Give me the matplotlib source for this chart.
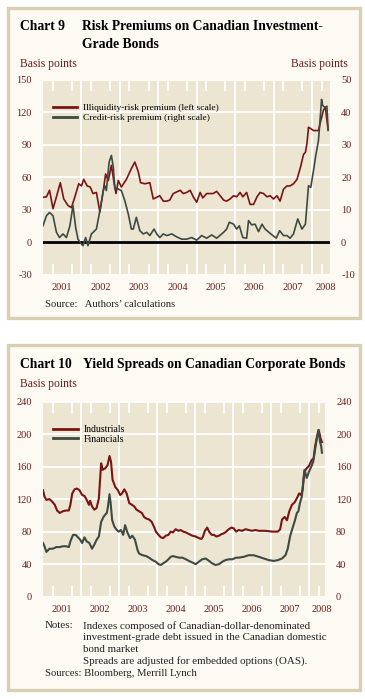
import matplotlib
matplotlib.use("Agg")
import matplotlib.pyplot as plt
from matplotlib.patches import Rectangle
import numpy as np

# ---- Chart 9 data (decimal year, basis points) ----
illiq_x = [2001.00, 2001.09, 2001.17, 2001.26, 2001.35, 2001.45, 2001.54, 2001.65, 2001.74, 2001.83,
           2001.93, 2002.00, 2002.06, 2002.15, 2002.23, 2002.30, 2002.39, 2002.48, 2002.57, 2002.63,
           2002.70, 2002.78, 2002.84, 2002.90, 2002.96, 2003.04, 2003.17, 2003.30, 2003.39, 2003.48,
           2003.54, 2003.65, 2003.78, 2003.87, 2004.04, 2004.13, 2004.22, 2004.30, 2004.39, 2004.57,
           2004.65, 2004.74, 2004.83, 2004.91, 2005.00, 2005.09, 2005.16, 2005.26, 2005.43, 2005.52,
           2005.61, 2005.70, 2005.78, 2005.87, 2005.96, 2006.04, 2006.13, 2006.20, 2006.30, 2006.39,
           2006.48, 2006.57, 2006.65, 2006.74, 2006.83, 2006.91, 2007.00, 2007.09, 2007.17, 2007.26,
           2007.35, 2007.43, 2007.52, 2007.61, 2007.70, 2007.78, 2007.83, 2007.87, 2007.91, 2007.96,
           2008.04, 2008.17, 2008.23, 2008.30, 2008.35, 2008.42]
illiq_y = [41.5, 42, 48, 31, 42, 55, 40, 34, 32, 42,
           54, 52, 58, 52, 51, 45, 46, 28, 48, 63,
           57, 71, 57, 45, 57, 51, 58, 68, 74, 65,
           55, 54, 55, 40, 43, 38, 38, 39, 45, 48,
           45, 46, 48, 42, 37, 46, 41, 45, 45, 47,
           43, 39, 38, 40, 43, 42, 46, 42, 46, 35,
           35, 42, 46, 45, 42, 43, 40, 43, 38, 49,
           52, 52, 54, 58, 69, 81, 83, 91, 106, 105,
           103, 103, 112, 122, 124, 104]

credit_x = [2001.00, 2001.09, 2001.17, 2001.26, 2001.35, 2001.43, 2001.52, 2001.61, 2001.70, 2001.78,
            2001.85, 2001.91, 2002.00, 2002.04, 2002.11, 2002.17, 2002.26, 2002.39, 2002.48, 2002.57,
            2002.61, 2002.65, 2002.72, 2002.78, 2002.83, 2002.87, 2002.96, 2003.04, 2003.13, 2003.22,
            2003.30, 2003.35, 2003.43, 2003.52, 2003.61, 2003.70, 2003.78, 2003.89, 2003.96, 2004.04,
            2004.13, 2004.22, 2004.35, 2004.48, 2004.61, 2004.74, 2004.87, 2005.00, 2005.13, 2005.26,
            2005.39, 2005.52, 2005.70, 2005.78, 2005.85, 2005.96, 2006.04, 2006.11, 2006.20, 2006.30,
            2006.35, 2006.43, 2006.52, 2006.61, 2006.70, 2006.78, 2006.91, 2007.07, 2007.16, 2007.26,
            2007.35, 2007.43, 2007.52, 2007.63, 2007.74, 2007.83, 2007.91, 2007.97, 2008.04, 2008.10,
            2008.17, 2008.22, 2008.25, 2008.28, 2008.33, 2008.39, 2008.42]
credit_y = [5.1, 8.2, 9.2, 8.2, 3.1, 1.5, 2.6, 1.5, 5.1, 11.3,
            4.6, 1.0, -0.5, -1.0, 1.5, -1.0, 2.6, 4.1, 9.7, 15.9,
            17.4, 15.9, 24.6, 26.7, 23.1, 16.4, 16.4, 15.9, 12.8, 8.7,
            4.1, 4.1, 7.7, 3.6, 2.6, 3.1, 2.1, 4.1, 2.6, 1.5,
            2.6, 2.1, 2.6, 1.7, 1.0, 1.0, 1.5, 0.7, 2.1, 1.3,
            2.3, 1.3, 3.1, 4.1, 6.2, 5.6, 4.1, 5.1, 1.5, 1.3,
            6.7, 5.4, 5.6, 3.3, 5.6, 4.1, 2.8, 1.3, 3.6, 2.1,
            2.1, 1.3, 2.6, 7.2, 4.1, 5.6, 17.4, 16.9, 22.0, 26.7,
            31.3, 39.0, 43.9, 42.0, 41.5, 41.8, 34.4]

# ---- Chart 10 data (decimal year, basis points) ----
ind_x = [2001.00, 2001.04, 2001.09, 2001.17, 2001.24, 2001.31, 2001.37, 2001.44, 2001.52, 2001.61,
         2001.68, 2001.72, 2001.77, 2001.83, 2001.89, 2001.96, 2002.03, 2002.09, 2002.15, 2002.21,
         2002.24, 2002.29, 2002.35, 2002.41, 2002.47, 2002.53, 2002.57, 2002.64, 2002.70, 2002.75,
         2002.79, 2002.83, 2002.90, 2002.97, 2003.03, 2003.08, 2003.14, 2003.20, 2003.27, 2003.34,
         2003.40, 2003.46, 2003.53, 2003.60, 2003.66, 2003.72, 2003.79, 2003.86, 2003.93, 2003.97,
         2004.04, 2004.10, 2004.16, 2004.23, 2004.30, 2004.36, 2004.42, 2004.49, 2004.56, 2004.62,
         2004.69, 2004.76, 2004.84, 2004.93, 2005.02, 2005.10, 2005.17, 2005.21, 2005.26, 2005.32,
         2005.37, 2005.44, 2005.50, 2005.56, 2005.63, 2005.70, 2005.76, 2005.82, 2005.89, 2005.96,
         2006.02, 2006.08, 2006.15, 2006.24, 2006.33, 2006.41, 2006.50, 2006.59, 2006.68, 2006.85,
         2007.03, 2007.18, 2007.24, 2007.29, 2007.36, 2007.42, 2007.48, 2007.55, 2007.62, 2007.68,
         2007.74, 2007.79, 2007.83, 2007.88, 2007.94, 2008.00, 2008.07, 2008.12, 2008.16, 2008.21,
         2008.25, 2008.28, 2008.30, 2008.34]
ind_y = [131, 123, 119, 120, 117, 113, 106, 103, 105, 106,
         106, 113, 127, 132, 133, 131, 125, 124, 119, 113,
         118, 111, 107, 109, 121, 164, 156, 158, 162, 173,
         166, 144, 135, 131, 125, 127, 132, 127, 115, 113,
         111, 107, 105, 103, 98, 96, 95, 92, 85, 80,
         76, 73, 72, 75, 76, 80, 79, 83, 81, 82,
         80, 79, 77, 75, 74, 72, 71, 74, 81, 85,
         80, 76, 76, 74, 75, 77, 78, 80, 83, 85,
         84, 80, 82, 81, 83, 82, 81, 82, 81, 81,
         80, 80, 83, 95, 98, 94, 105, 113, 116, 121,
         127, 125, 131, 154, 158, 161, 168, 170, 185, 197,
         205, 200, 195, 190]

fin_x = [2001.00, 2001.04, 2001.09, 2001.17, 2001.26, 2001.35, 2001.44, 2001.52, 2001.61, 2001.68,
         2001.72, 2001.79, 2001.86, 2001.92, 2001.98, 2002.03, 2002.09, 2002.15, 2002.22, 2002.29,
         2002.35, 2002.41, 2002.47, 2002.53, 2002.59, 2002.64, 2002.68, 2002.71, 2002.75, 2002.78,
         2002.82, 2002.88, 2002.94, 2002.99, 2003.05, 2003.11, 2003.16, 2003.22, 2003.29, 2003.35,
         2003.42, 2003.49, 2003.53, 2003.62, 2003.71, 2003.79, 2003.88, 2003.97, 2004.04, 2004.10,
         2004.16, 2004.23, 2004.30, 2004.36, 2004.42, 2004.49, 2004.58, 2004.67, 2004.76, 2004.84,
         2004.93, 2005.02, 2005.10, 2005.19, 2005.28, 2005.37, 2005.45, 2005.54, 2005.63, 2005.72,
         2005.80, 2005.89, 2005.98, 2006.08, 2006.15, 2006.28, 2006.41, 2006.54, 2006.68, 2006.81,
         2006.94, 2007.07, 2007.18, 2007.29, 2007.38, 2007.44, 2007.50, 2007.55, 2007.59, 2007.63,
         2007.68, 2007.72, 2007.76, 2007.81, 2007.86, 2007.88, 2007.94, 2008.00, 2008.07, 2008.11,
         2008.16, 2008.20, 2008.25, 2008.29, 2008.32, 2008.34]
fin_y = [66, 62, 55, 59, 59, 61, 61, 62, 62, 61,
         68, 76, 76, 73, 70, 66, 73, 68, 66, 59,
         64, 70, 74, 92, 98, 101, 103, 111, 126, 115,
         94, 86, 82, 80, 82, 76, 88, 79, 72, 75,
         70, 57, 53, 51, 50, 48, 45, 43, 40, 39,
         41, 43, 46, 49, 50, 49, 48, 48, 46, 44,
         42, 40, 43, 46, 47, 44, 41, 39, 40, 43,
         45, 46, 46, 48, 48, 49, 51, 51, 49, 47,
         45, 44, 45, 47, 51, 59, 74, 82, 88, 94,
         103, 105, 115, 123, 148, 156, 146, 154, 161, 166,
         181, 193, 205, 190, 185, 177]

years = [2001, 2002, 2003, 2004, 2005, 2006, 2007, 2008]
year_labels = ["2001", "2002", "2003", "2004", "2005", "2006", "2007", "2008"]

W, H = 365, 699
RED = "#7a1414"
GREEN = "#3d4a42"
LABEL = "#6b1d1d"
TEXT = "#222222"
PLOT_BG = "#ebe5d2"
PANEL_BG = "#fcfaf2"
BORDER = "#d9d0b3"

plt.rcParams['font.family'] = ['Liberation Serif', 'DejaVu Serif']
plt.rcParams['axes.unicode_minus'] = False

fig = plt.figure(figsize=(W / 100, H / 100), dpi=100)
fig.patch.set_facecolor("white")


def fx(x):
    return x / W


def fy(y):
    return 1 - y / H


def axes_at(x0, y0, x1, y1):
    return fig.add_axes([fx(x0), fy(y1), (x1 - x0) / W, (y1 - y0) / H])


def panel(x0, y0, x1, y1):
    fig.patches.append(Rectangle((fx(x0), fy(y1)), (x1 - x0) / W, (y1 - y0) / H,
                                 transform=fig.transFigure, facecolor=PANEL_BG,
                                 edgecolor=BORDER, linewidth=2.4, zorder=-5))


def style_axes(ax, xmax, yticks, label_x2008):
    ax.set_facecolor(PLOT_BG)
    for s in ax.spines.values():
        s.set_visible(False)
    ax.set_xlim(2001.0, xmax)
    ax.set_ylim(yticks[0], yticks[-1])
    for yv in yticks:
        ax.axhline(yv, color="white", lw=1.3, zorder=1)
    for yr in years[1:]:
        ax.axvline(yr, color="white", lw=1.3, zorder=1)
    quarters = [yr + q for yr in years for q in (0.25, 0.5, 0.75) if yr + q < xmax]
    ax.set_xticks(quarters, minor=True)
    ax.tick_params(axis="x", which="minor", direction="in", length=8, width=1.3,
                   color="white", top=True, bottom=True)
    pos = [yr + 0.5 for yr in years[:-1]] + [label_x2008]
    ax.set_xticks(pos)
    ax.set_xticklabels(year_labels)
    ax.tick_params(axis="x", which="major", length=0, pad=6, labelsize=7.5, labelcolor=LABEL)
    ax.set_yticks(yticks)
    ax.tick_params(axis="y", length=0, pad=8, labelsize=7.5, labelcolor=LABEL)


# ================= Chart 9 =================
panel(8, 8, 360, 318)
fig.text(fx(20), fy(30), "Chart 9", fontsize=9.8, fontweight="bold", va="baseline")
fig.text(fx(82), fy(30), "Risk Premiums on Canadian Investment-", fontsize=9.8,
         fontweight="bold", va="baseline")
fig.text(fx(82), fy(48), "Grade Bonds", fontsize=9.8, fontweight="bold", va="baseline")
fig.text(fx(20), fy(63.5), "Basis points", fontsize=8.4, color=LABEL, va="center")
fig.text(fx(348), fy(63.5), "Basis points", fontsize=8.4, color=LABEL, va="center", ha="right")

ax9 = axes_at(43, 79.5, 330, 275)
style_axes(ax9, 2008.47, [-30, 0, 30, 60, 90, 120, 150], 2008.36)
ax9.axhline(0, color="black", lw=2.0, zorder=2)
l1, = ax9.plot(illiq_x, illiq_y, color=RED, lw=1.2, zorder=3)
ax9r = ax9.twinx()
for s in ax9r.spines.values():
    s.set_visible(False)
ax9r.set_ylim(-10, 50)
ax9r.set_yticks([-10, 0, 10, 20, 30, 40, 50])
ax9r.tick_params(axis="y", length=0, pad=8, labelsize=7.5, labelcolor=LABEL)
l2, = ax9r.plot(credit_x, credit_y, color=GREEN, lw=1.2, zorder=3)
leg9 = ax9.legend([l1, l2], ["Illiquidity-risk premium (left scale)", "Credit-risk premium (right scale)"],
                  loc="upper left", bbox_to_anchor=(0.02, 0.895), frameon=False, fontsize=6.8,
                  handlelength=2.6, handletextpad=0.6, labelspacing=0.1, borderaxespad=0)
for h in leg9.get_lines():
    h.set_linewidth(2.0)
fig.text(fx(45), fy(304), "Source:   Authors\u2019 calculations", fontsize=7.7, va="center", color=TEXT)

# ================= Chart 10 =================
panel(8, 345, 360, 690)
fig.text(fx(20), fy(368), "Chart 10", fontsize=9.8, fontweight="bold", va="baseline")
fig.text(fx(83), fy(368), "Yield Spreads on Canadian Corporate Bonds", fontsize=9.8,
         fontweight="bold", va="baseline")
fig.text(fx(20), fy(384), "Basis points", fontsize=8.4, color=LABEL, va="center")

ax10 = axes_at(43, 401.5, 325, 596.7)
style_axes(ax10, 2008.42, [0, 40, 80, 120, 160, 200, 240], 2008.33)
ax10.tick_params(axis="y", labelright=True, right=False)
l3, = ax10.plot(ind_x, ind_y, color=RED, lw=1.5, zorder=3)
l4, = ax10.plot(fin_x, fin_y, color=GREEN, lw=1.5, zorder=3)
leg10 = ax10.legend([l3, l4], ["Industrials", "Financials"],
                    loc="upper left", bbox_to_anchor=(0.02, 0.90), frameon=False, fontsize=7.0,
                    handlelength=2.6, handletextpad=0.6, labelspacing=0.1, borderaxespad=0)
for h in leg10.get_lines():
    h.set_linewidth(2.0)

notes = ["Indexes composed of Canadian-dollar-denominated",
         "investment-grade debt issued in the Canadian domestic",
         "bond market",
         "Spreads are adjusted for embedded options (OAS)."]
fig.text(fx(45), fy(626), "Notes:", fontsize=7.9, va="center", color=TEXT)
for i, line in enumerate(notes):
    fig.text(fx(83), fy(626 + 11.8 * i), line, fontsize=7.9, va="center", color=TEXT)
fig.text(fx(45), fy(673), "Sources: Bloomberg, Merrill Lynch", fontsize=7.7, va="center", color=TEXT)

fig.savefig("out.png", dpi=100)
